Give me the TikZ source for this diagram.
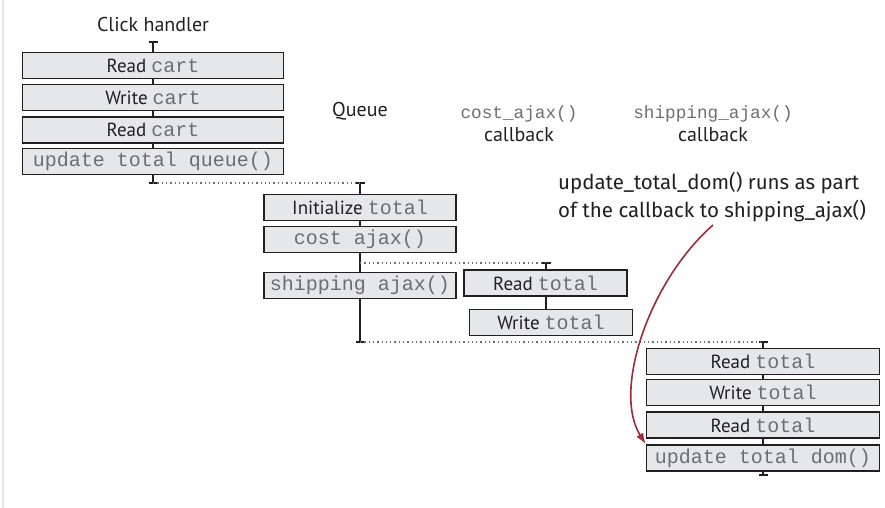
\documentclass[tikz,border=0pt]{standalone}
\usepackage{fontspec}
\setmainfont{PT Sans}
\setmonofont{Liberation Mono}
\newfontfamily\handfont{Fira Sans}
\usetikzlibrary{arrows.meta}
\definecolor{boxfill}{HTML}{E6E7E8}
\definecolor{boxline}{HTML}{231F20}
\definecolor{codegray}{HTML}{6D6E71}
\definecolor{arrowred}{HTML}{9E2A3A}
\definecolor{dotgray}{HTML}{6D6E71}
\newcommand{\cd}[1]{{\fontsize{20}{20}\selectfont\ttfamily\color{codegray}#1}}
\newcommand{\hcd}[1]{{\fontsize{17.7}{20}\selectfont\ttfamily\color{codegray}#1}}
\tikzset{
  opbox/.style={draw=boxline, fill=boxfill, line width=1.8pt, minimum height=26pt,
    inner sep=0pt, text=boxline, font=\fontsize{19}{21}\selectfont},
  flow/.style={draw=boxline, line width=1.8pt},
  tickmark/.style={draw=boxline, line width=1.6pt},
  waitline/.style={draw=dotgray, line width=1.3pt, dash pattern=on 1.3pt off 3pt},
  header/.style={text=boxline, font=\fontsize{20}{23}\selectfont, align=center, inner sep=0pt},
  note/.style={text=boxline, font=\handfont\fontsize{20.5}{28}\selectfont, align=left, inner sep=0pt},
  callarrow/.style={draw=arrowred, line width=1.6pt, -{Latex[length=11pt,width=8pt]}}
}
\begin{document}
\begin{tikzpicture}[x=1pt,y=-1pt]
\useasboundingbox (0,0) rectangle (885,508);
\draw[gray!22, line width=2pt] (2.5,0) -- (2.5,508);

% tick coordinates
\coordinate (ta) at (153,42);
\coordinate (ba) at (153,183);
\coordinate (tb) at (360,183);
\coordinate (bb) at (360,342);
\coordinate (sb) at (360,263);
\coordinate (tc) at (546,263);
\coordinate (td) at (763,342);
\coordinate (bd) at (763,475);

% vertical flow lines
\draw[flow] (ta) -- (ba);
\draw[flow] (tb) -- (bb);
\draw[flow] (td) -- (bd);

% ticks
\foreach \t in {ta,ba,tb,bb,tc,td,bd}
  \draw[tickmark] ([xshift=-4.5pt]\t) -- ([xshift=4.5pt]\t);

% waiting (dotted) lines
\draw[waitline] (ba) -- (tb);
\draw[waitline] (sb) -- (tc);
\draw[waitline] (bb) -- (td);

% headers
\node[header] (hclick) at (153,25) {Click handler};
\node[header] (hqueue) at (360,111) {Queue};
\node[header] (hcost) at (519,124) {\hcd{cost\_ajax()}\\callback};
\node[header] (hship) at (713,124) {\hcd{shipping\_ajax()}\\callback};

% click handler column
\node[opbox, minimum width=261pt] (a1) at (153,65.5) {Read \cd{cart}};
\node[opbox, minimum width=261pt] (a2) at (153,97.5) {Write \cd{cart}};
\node[opbox, minimum width=261pt] (a3) at (153,130) {Read \cd{cart}};
\node[opbox, minimum width=261pt] (a4) at (153,161.5) {\cd{update total queue()}};

% queue column
\node[opbox, minimum width=192pt] (b1) at (360,207.5) {Initialize \cd{total}};
\node[opbox, minimum width=192pt] (b2) at (360,239.5) {\cd{cost ajax()}};
\node[opbox, minimum width=192pt] (b3) at (360,285.5) {\cd{shipping ajax()}};

% cost_ajax callback column
\node[opbox, minimum width=163pt] (c1) at (545.5,283) {Read \cd{total}};
\node[opbox, minimum width=163pt] (c2) at (551,322.5) {Write \cd{total}};
\draw[flow] (tc) -- (tc |- c1.north);
\draw[flow] (tc |- c1.south) -- (tc |- c2.north);

% shipping_ajax callback column
\node[opbox, minimum width=233pt] (d1) at (763,361.5) {Read \cd{total}};
\node[opbox, minimum width=233pt] (d2) at (763,392.5) {Write \cd{total}};
\node[opbox, minimum width=233pt] (d3) at (763,425) {Read \cd{total}};
\node[opbox, minimum width=233pt] (d4) at (763,458) {\cd{update total dom()}};

% annotation
\node[note, anchor=north west] (note) at (558,172) {update\_total\_dom() runs as part\\of the callback to shipping\_ajax()};
\coordinate (noteend) at (713,225);
\draw[callarrow] (noteend) .. controls (650,280) and (612,390) .. (d4.north west);
\end{tikzpicture}
\end{document}
